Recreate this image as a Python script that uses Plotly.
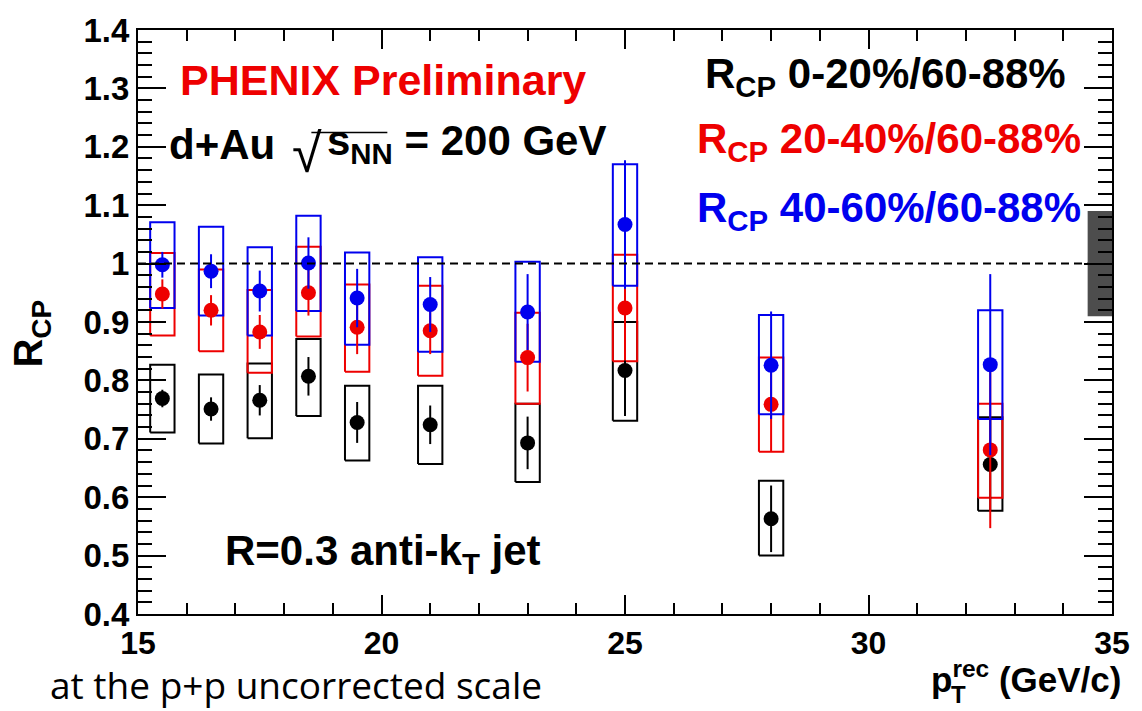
import plotly.graph_objects as go

# Jet pT bin centres (GeV/c)
pt = [15.5, 16.5, 17.5, 18.5, 19.5, 21.0, 23.0, 25.0, 28.0, 32.5]

# R_CP 0-20% / 60-88%
rcp_0_20 = [0.769, 0.751, 0.766, 0.807, 0.728, 0.724, 0.693, 0.817, 0.563, 0.656]
stat_0_20 = [0.015, 0.020, 0.026, 0.033, 0.035, 0.033, 0.045, 0.078, 0.057, 0.080]
sys_lo_0_20 = [0.711, 0.692, 0.701, 0.739, 0.663, 0.657, 0.626, 0.731, 0.500, 0.577]
sys_hi_0_20 = [0.827, 0.810, 0.829, 0.871, 0.791, 0.791, 0.760, 0.900, 0.628, 0.737]

# R_CP 20-40% / 60-88%
rcp_20_40 = [0.948, 0.920, 0.883, 0.950, 0.891, 0.885, 0.839, 0.924, 0.759, 0.681]
stat_20_40 = [0.025, 0.026, 0.029, 0.039, 0.046, 0.040, 0.058, 0.090, 0.080, 0.134]
sys_lo_20_40 = [0.877, 0.850, 0.813, 0.875, 0.815, 0.808, 0.760, 0.833, 0.678, 0.599]
sys_hi_20_40 = [1.018, 0.990, 0.955, 1.029, 0.964, 0.962, 0.916, 1.015, 0.839, 0.760]

# R_CP 40-60% / 60-88%
rcp_40_60 = [0.998, 0.987, 0.953, 1.001, 0.941, 0.930, 0.917, 1.067, 0.826, 0.827]
stat_40_60 = [0.022, 0.029, 0.035, 0.044, 0.050, 0.047, 0.065, 0.110, 0.092, 0.155]
sys_lo_40_60 = [0.924, 0.911, 0.877, 0.919, 0.861, 0.849, 0.832, 0.962, 0.742, 0.734]
sys_hi_40_60 = [1.071, 1.063, 1.028, 1.082, 1.019, 1.011, 1.003, 1.170, 0.912, 0.920]

# Global normalisation uncertainty around unity
norm_unc = 0.09

x_ticks = [15, 20, 25, 30, 35]
x_tick_labels = ["15", "20", "25", "30", "35"]
y_ticks = [0.4, 0.5, 0.6, 0.7, 0.8, 0.9, 1.0, 1.1, 1.2, 1.3, 1.4]
y_tick_labels = ["0.4", "0.5", "0.6", "0.7", "0.8", "0.9", "1", "1.1", "1.2", "1.3", "1.4"]

BLACK = "#000000"
RED = "#ee0000"
BLUE = "#0000ee"
FONT = "Liberation Sans"
BOX_HALF_WIDTH = 0.25


def sys_boxes(x, lo, hi, hw):
    """Outline rectangles for the systematic uncertainties."""
    bx, by = [], []
    for xi, l, h in zip(x, lo, hi):
        bx += [xi - hw, xi + hw, xi + hw, xi - hw, xi - hw, None]
        by += [l, l, h, h, l, None]
    return bx, by


fig = go.Figure()

series = [
    (rcp_0_20, stat_0_20, sys_lo_0_20, sys_hi_0_20, BLACK, "0-20%/60-88%"),
    (rcp_20_40, stat_20_40, sys_lo_20_40, sys_hi_20_40, RED, "20-40%/60-88%"),
    (rcp_40_60, stat_40_60, sys_lo_40_60, sys_hi_40_60, BLUE, "40-60%/60-88%"),
]

# systematic boxes
for vals, stat, lo, hi, col, name in series:
    bx, by = sys_boxes(pt, lo, hi, BOX_HALF_WIDTH)
    fig.add_trace(go.Scatter(x=bx, y=by, mode="lines",
                             line=dict(color=col, width=2),
                             showlegend=False, hoverinfo="skip"))

# points with statistical error bars
for vals, stat, lo, hi, col, name in series:
    fig.add_trace(go.Scatter(
        x=pt, y=vals, mode="markers", name=name,
        marker=dict(color=col, size=15, symbol="circle"),
        error_y=dict(type="data", array=stat, visible=True,
                     color=col, thickness=2, width=0),
        showlegend=False))

# normalisation band at the right edge
fig.add_trace(go.Scatter(
    x=[34.5, 35, 35, 34.5, 34.5],
    y=[1 - norm_unc, 1 - norm_unc, 1 + norm_unc, 1 + norm_unc, 1 - norm_unc],
    mode="lines", fill="toself", fillcolor="#4d4d4d",
    line=dict(color="#4d4d4d", width=0), showlegend=False, hoverinfo="skip"))

# unity reference
fig.add_shape(type="line", xref="x", yref="y", x0=15, x1=34.5, y0=1, y1=1,
              line=dict(color="black", width=2, dash="8px,5px"))

ann = []
big = dict(family=FONT, size=42, weight="bold")

ann.append(dict(x=15.83, y=1.315, xref="x", yref="y", xanchor="left", yanchor="middle",
                text="PHENIX Preliminary", showarrow=False,
                font=dict(family=FONT, size=43, weight="bold", color=RED)))
ann.append(dict(x=15.59, y=1.204, xref="x", yref="y", xanchor="left", yanchor="middle",
                text="d+Au", showarrow=False, font=dict(big, color=BLACK)))
ann.append(dict(x=18.12, y=1.190, xref="x", yref="y", xanchor="left", yanchor="middle",
                text="\u221a", showarrow=False,
                font=dict(family=FONT, size=54, weight="normal", color=BLACK)))
ann.append(dict(x=18.84, y=1.206, xref="x", yref="y", xanchor="left", yanchor="middle",
                text="s<sub>NN</sub> = 200 GeV", showarrow=False,
                font=dict(big, color=BLACK)))
fig.add_shape(type="line", xref="x", yref="y", x0=18.56, x1=20.12, y0=1.2243, y1=1.2243,
              line=dict(color="black", width=1.5))

legend_rows = [
    (34.10, 1.3206, BLACK, "0-20%/60-88%"),
    (34.40, 1.2091, RED, "20-40%/60-88%"),
    (34.40, 1.0909, BLUE, "40-60%/60-88%"),
]
for lx, ly, col, label in legend_rows:
    ann.append(dict(x=lx, y=ly, xref="x", yref="y", xanchor="right", yanchor="middle",
                    text="R<sub>CP</sub> " + label, showarrow=False,
                    font=dict(big, color=col)))

ann.append(dict(x=16.75, y=0.503, xref="x", yref="y", xanchor="left", yanchor="middle",
                text="R=0.3 anti-k<sub>T</sub> jet", showarrow=False,
                font=dict(big, color=BLACK)))

# axis titles
ann.append(dict(x=-0.11, y=0.48, xref="paper", yref="paper", xanchor="center", yanchor="middle",
                text="R<sub>CP</sub>", textangle=-90, showarrow=False,
                font=dict(family=FONT, size=40, weight="bold", color=BLACK)))
ann.append(dict(x=1.011, y=-0.1075, xref="paper", yref="paper", xanchor="right", yanchor="middle",
                text="p<sup>rec</sup> (GeV/c)", showarrow=False,
                font=dict(family=FONT, size=35, weight="bold", color=BLACK)))
ann.append(dict(x=0.833, y=-0.137, xref="paper", yref="paper", xanchor="left", yanchor="middle",
                text="T", showarrow=False,
                font=dict(family=FONT, size=24, weight="bold", color=BLACK)))

ann.append(dict(x=-0.0925, y=-0.1215, xref="paper", yref="paper", xanchor="left", yanchor="middle",
                text="at the p+p uncorrected scale", showarrow=False,
                font=dict(family="Open Sans", size=37, color=BLACK)))

fig.update_layout(
    width=1142, height=711,
    margin=dict(l=138, r=20, t=22, b=97),
    paper_bgcolor="white", plot_bgcolor="white",
    showlegend=False,
    annotations=ann,
)

fig.update_xaxes(
    range=[15, 35], tickvals=x_ticks, ticktext=x_tick_labels,
    showgrid=False, zeroline=False,
    showline=True, linecolor="black", linewidth=2, mirror="ticks",
    ticks="inside", ticklen=19, tickwidth=2, tickcolor="black",
    minor=dict(ticks="inside", ticklen=11, dtick=1, tick0=15, tickwidth=2,
               tickcolor="black", showgrid=False),
    tickfont=dict(family=FONT, size=32, weight="bold", color="black"),
)
fig.update_yaxes(
    range=[0.4, 1.4], tickvals=y_ticks, ticktext=y_tick_labels,
    showgrid=False, zeroline=False,
    showline=True, linecolor="black", linewidth=2, mirror="ticks",
    ticks="inside", ticklen=28, tickwidth=2, tickcolor="black",
    minor=dict(ticks="inside", ticklen=14, dtick=0.02, tick0=0.4, tickwidth=2,
               tickcolor="black", showgrid=False),
    tickfont=dict(family=FONT, size=33, weight="bold", color="black"),
)

fig.write_html("out.html")
